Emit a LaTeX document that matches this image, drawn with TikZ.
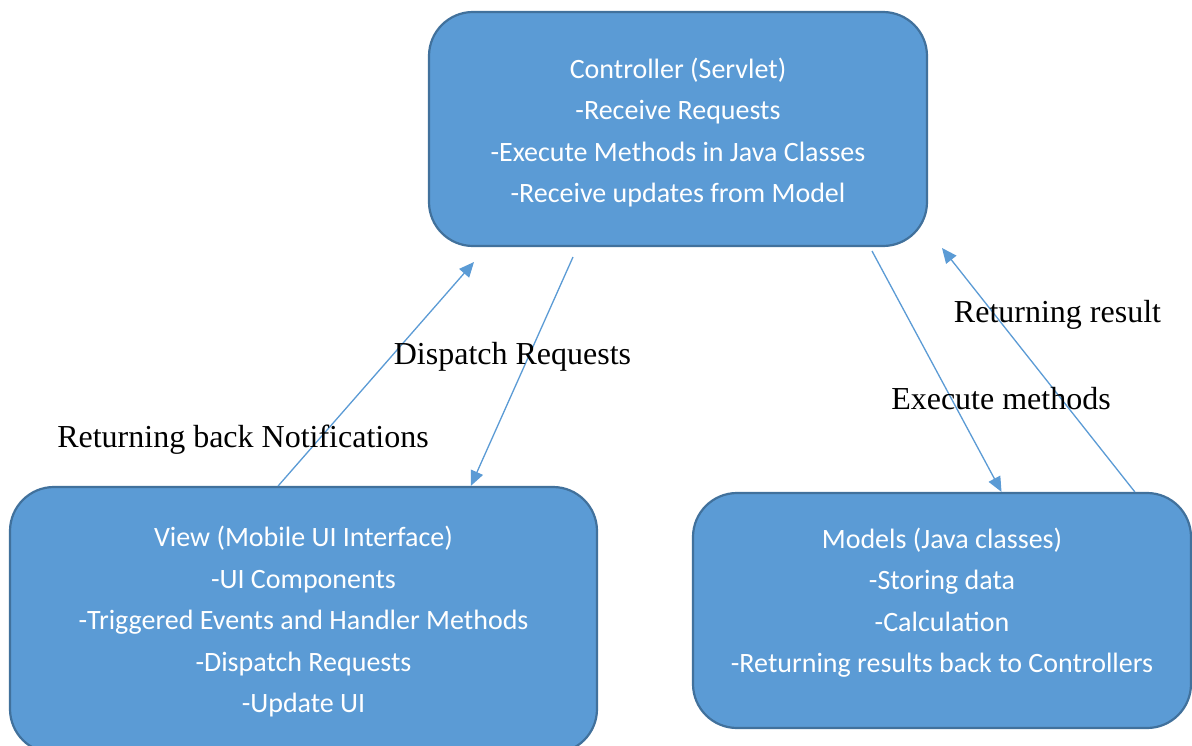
\documentclass[tikz,border=0pt]{standalone}
\usepackage{fontspec}
\setmainfont{Liberation Serif}
\newfontfamily\boxfont{Carlito}
\usetikzlibrary{arrows.meta,calc}
\definecolor{boxfill}{HTML}{5B9BD5}
\definecolor{boxline}{HTML}{41719C}
\definecolor{arrowblue}{HTML}{5B9BD5}
\tikzset{
  mvcbox/.style={draw=boxline, fill=boxfill, line width=2.2pt, rounded corners=44pt, inner sep=0pt},
  boxtext/.style={text=white, align=center, font=\boxfont\fontsize{28}{41.5}\selectfont, inner sep=0pt},
  flow/.style={draw=arrowblue, line width=1.3pt, -{Triangle[length=15pt,width=13pt]}},
  flowlabel/.style={font=\fontsize{32}{38}\selectfont, inner sep=0pt}
}
\begin{document}
\begin{tikzpicture}[x=1pt,y=-1pt]
\clip (0,0) rectangle (1192,745);
\fill[white] (0,0) rectangle (1192,745);

% the three boxes
\node[mvcbox, minimum width=498pt, minimum height=234pt] (ctrl) at (678,129) {};
\node[mvcbox, minimum width=587pt, minimum height=266pt] (view) at (303.5,620) {};
\node[mvcbox, minimum width=498pt, minimum height=235pt] (model) at (942,610.5) {};

% box contents
\node[boxtext] (ctrltxt) at (678,132.5) {Controller (Servlet)\\-Receive Requests\\-Execute Methods in Java Classes\\-Receive updates from Model};
\node[boxtext] (viewtxt) at (303.5,622) {View (Mobile UI Interface)\\-UI Components\\-Triggered Events and Handler Methods\\-Dispatch Requests\\-Update UI};
\node[boxtext] (modeltxt) at (942,602.5) {Models (Java classes)\\-Storing data\\-Calculation\\-Returning results back to Controllers};

% free ends of the connectors, in the gaps next to the boxes
\coordinate (notifEnd) at (474,262);
\coordinate (dispStart) at (573,257);
\coordinate (execStart) at (872,251);
\coordinate (resEnd) at (942,248);

% connectors
\draw[flow] ($(view.north west)!0.457!(view.north east)$) -- (notifEnd);
\draw[flow] (dispStart) -- ($(view.north west)!0.784!(view.north east)$);
\draw[flow] (execStart) -- ($(model.north west)!0.619!(model.north east)$);
\draw[flow] ($(model.north west)!0.8855!(model.north east)$) -- (resEnd);

% connector labels
\node[flowlabel] (lblNotif) at (243,440) {Returning back Notifications};
\node[flowlabel] (lblDisp) at (512.5,357) {Dispatch Requests};
\node[flowlabel] (lblRes) at (1057.5,315) {Returning result};
\node[flowlabel] (lblExec) at (1001,399) {Execute methods};
\end{tikzpicture}
\end{document}
